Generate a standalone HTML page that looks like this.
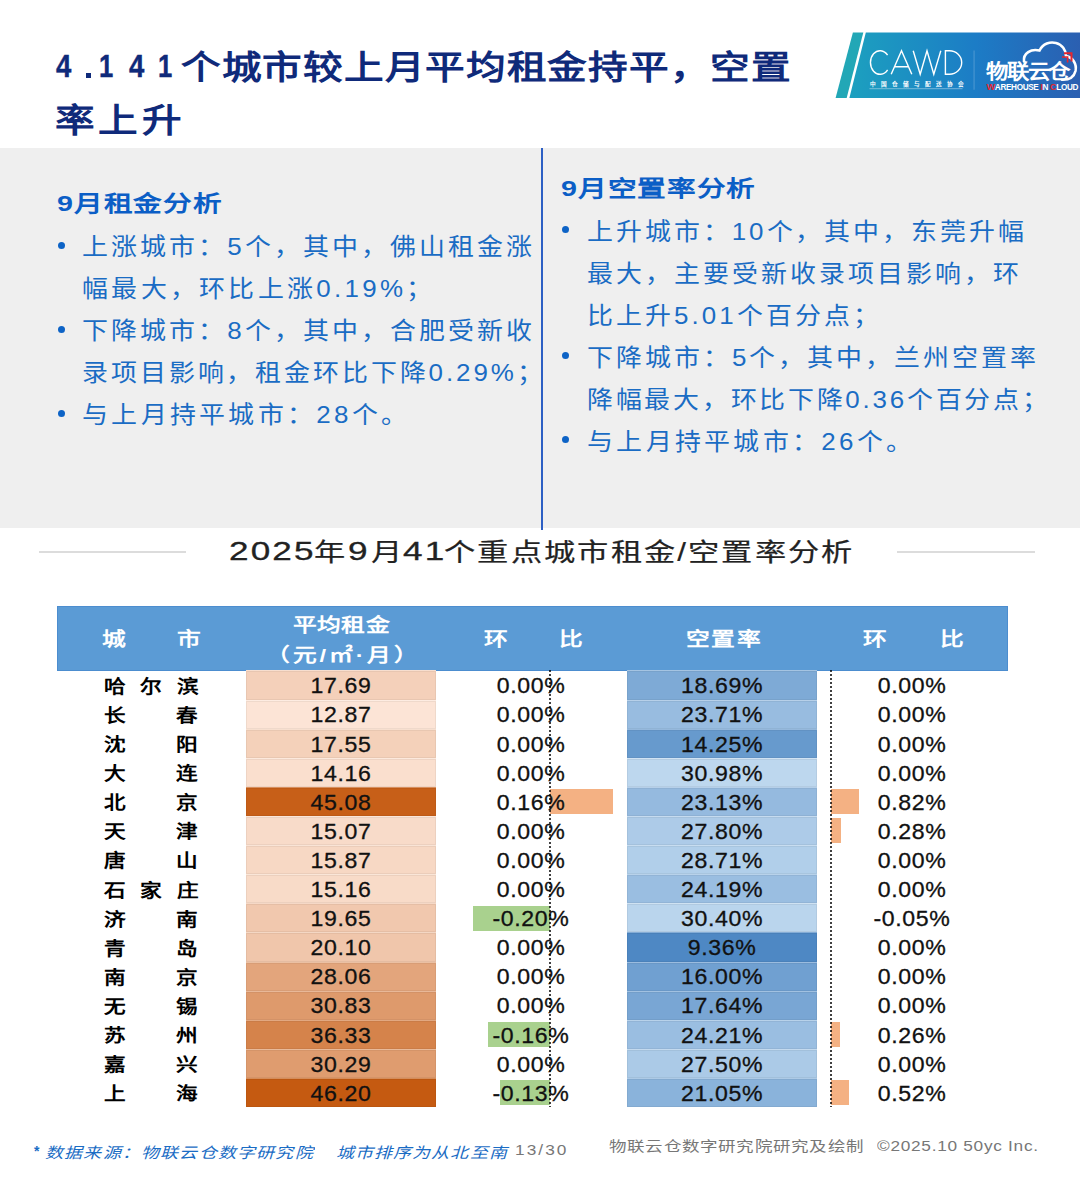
<!DOCTYPE html>
<html lang="zh-CN"><head><meta charset="utf-8">
<style>
*{margin:0;padding:0;box-sizing:border-box}
html,body{width:1080px;height:1200px;overflow:hidden;background:#fff}
body{position:relative;font-family:"Liberation Sans",sans-serif}
.a{position:absolute;white-space:nowrap}
.s{transform-origin:0 0}
.title{left:55px;color:#0f2a7a;font-size:33px;font-weight:700;line-height:40px;transform:scaleX(1.2)}
.tdig{color:#0f2a7a;font-size:32px;font-weight:700;line-height:40px;transform:scaleX(0.86);-webkit-text-stroke:0.4px #0f2a7a}
.h{color:#0b5ec6;font-size:22px;font-weight:700;letter-spacing:0.8px;line-height:30px;transform:scaleX(1.3)}
.b{color:#1a6cc4;font-size:24px;letter-spacing:3.1px;line-height:30px;transform:scaleX(1.08)}
.dot{position:absolute;width:7px;height:7px;border-radius:50%;background:#0d63c6}
.ctitle{color:#222;font-size:25px;font-weight:500;letter-spacing:2.1px;line-height:30px;transform:scaleX(1.25);-webkit-text-stroke:0.2px #222}
.tht{color:#fff;font-size:19px;font-weight:700;line-height:24px;transform:scaleX(1.25)}
.num{font-size:22px;color:#111;-webkit-text-stroke:0.3px #111;line-height:24px;letter-spacing:0.6px;text-align:center;transform:scaleX(1.05)}
.city{transform-origin:0 0;font-size:18px;font-weight:700;color:#000;line-height:24px;transform:scaleX(1.2)}
.foot{color:#1a6cc4;font-size:15px;font-style:italic;letter-spacing:1px;line-height:20px;transform:scaleX(1.2)}
.foot2{color:#777;font-size:15px;line-height:20px;transform:scaleX(1.05)}
</style></head><body>

<!-- title -->
<div class="a s title" style="left:181px;top:48px;letter-spacing:0.93px">个城市较上月平均租金持平，空置</div>
<div class="a s tdig" style="left:55.7px;top:46px">4</div>
<div class="a" style="left:85.5px;top:72.5px;width:5px;height:5px;background:#0f2a7a"></div>
<div class="a s tdig" style="left:99px;top:46px;transform:scaleX(0.8)">1</div>
<div class="a s tdig" style="left:129px;top:46px">4</div>
<div class="a s tdig" style="left:158px;top:46px;transform:scaleX(0.8)">1</div>
<div class="a s title" style="top:101px;letter-spacing:3.1px">率上升</div>

<!-- logo -->
<svg class="a" style="left:830px;top:25px" width="250" height="80" viewBox="830 25 250 80">
<defs><linearGradient id="lg" gradientUnits="userSpaceOnUse" x1="850" y1="0" x2="1080" y2="0"><stop offset="0" stop-color="#1ca0bf"/><stop offset="0.55" stop-color="#1c7cc6"/><stop offset="1" stop-color="#2b5fb1"/></linearGradient></defs>
<polygon points="852.9,32.6 863.3,32.6 846.7,97.9 835.6,97.9" fill="#22a7b6"/>
<polygon points="865.8,32.6 1080,32.6 1080,97.9 849.4,97.9" fill="url(#lg)"/>
<g fill="none" stroke="#fff" stroke-width="1.4">
<path d="M887.6,55.2 A9.6,11.8 0 1 0 887.6,69.8"/>
<path d="M891.2,74.3 L901.5,50.8 L911.8,74.3 M894.6,66.8 H908.4"/>
<path d="M913.2,50.8 L920.2,74.3 L927,50.8 L933.8,74.3 L940.8,50.8"/>
<path d="M945.4,50.8 V74.3 H949.5 A12.2,11.75 0 0 0 949.5,50.8 Z"/>
</g>
<text x="869.5" y="85.6" font-size="5.6" fill="#fff" font-weight="700" letter-spacing="5.1" font-family="Liberation Sans, sans-serif">中国仓储与配送协会</text>
<rect x="869.5" y="88.2" width="93" height="1" fill="#fff" opacity="0.4"/>
<rect x="973.6" y="50.5" width="0.9" height="39.2" fill="#fff" opacity="0.25"/>
<path d="M1024,61.5 C1023,53 1031,48.5 1039.5,50.5 C1043,43.5 1050,41.5 1056,43 C1062,44.5 1066,50 1066,56 C1073,57.5 1077,64 1075.5,71 C1074,77 1069,80 1062,79.8" fill="none" stroke="#fff" stroke-width="2.6" stroke-linecap="round"/>
<path d="M1064,53.2 H1071.5 V61.5" fill="none" stroke="#e8262d" stroke-width="2"/>
<path d="M1062,57 H1067.6 V62.6" fill="none" stroke="#e8262d" stroke-width="1.6"/>
<text x="986" y="79.5" font-size="20" font-weight="900" fill="#fff" letter-spacing="-1.2" font-family="Liberation Sans, sans-serif" transform="translate(986 0) scale(1.12 1) translate(-986 0)">物联云仓</text>
<text x="986.5" y="89.8" font-size="8.2" font-weight="700" fill="#fff" letter-spacing="-0.35" font-family="Liberation Sans, sans-serif"><tspan fill="#e8262d" font-size="9.2">W</tspan>AREHOUSE <tspan fill="#e8262d" font-size="9.2">I</tspan>N <tspan fill="#e8262d" font-size="9.2">C</tspan>LOUD</text>
</svg>

<!-- panel -->
<div class="a" style="left:0;top:148px;width:1080px;height:380px;background:#efefef"></div>
<div class="a" style="left:541px;top:148px;width:2px;height:382px;background:#2d5fc4"></div>

<!-- left column -->
<div class="a s h" style="left:57px;top:189px">9月租金分析</div>
<div class="dot" style="left:57.5px;top:242px"></div>
<div class="a s b" style="left:82px;top:232px;letter-spacing:2.91px">上涨城市：5个，其中，佛山租金涨</div>
<div class="a s b" style="left:82px;top:274px">幅最大，环比上涨0.19%；</div>
<div class="dot" style="left:57.5px;top:326px"></div>
<div class="a s b" style="left:82px;top:316px;letter-spacing:2.91px">下降城市：8个，其中，合肥受新收</div>
<div class="a s b" style="left:82px;top:358px;letter-spacing:2.74px">录项目影响，租金环比下降0.29%；</div>
<div class="dot" style="left:57.5px;top:410px"></div>
<div class="a s b" style="left:82px;top:400px">与上月持平城市：28个。</div>

<!-- right column -->
<div class="a s h" style="left:561px;top:174px">9月空置率分析</div>
<div class="dot" style="left:561.5px;top:226px"></div>
<div class="a s b" style="left:587px;top:216.5px;letter-spacing:2.79px">上升城市：10个，其中，东莞升幅</div>
<div class="a s b" style="left:587px;top:258.5px;letter-spacing:2.88px">最大，主要受新收录项目影响，环</div>
<div class="a s b" style="left:587px;top:300.5px;letter-spacing:2.85px">比上升5.01个百分点；</div>
<div class="dot" style="left:561.5px;top:352px"></div>
<div class="a s b" style="left:587px;top:342.5px;letter-spacing:2.85px">下降城市：5个，其中，兰州空置率</div>
<div class="a s b" style="left:587px;top:384.5px;letter-spacing:2.58px">降幅最大，环比下降0.36个百分点；</div>
<div class="dot" style="left:561.5px;top:436px"></div>
<div class="a s b" style="left:587px;top:426.5px">与上月持平城市：26个。</div>

<!-- chart title -->
<div class="a" style="left:39px;top:551px;width:147px;height:2px;background:#dcdcdc"></div>
<div class="a" style="left:897px;top:551px;width:138px;height:2px;background:#dcdcdc"></div>
<div class="a s ctitle" style="left:229px;top:536px;font-size:26px;letter-spacing:1.6px;transform:scaleX(1.35);-webkit-text-stroke:0.3px #222">2025</div>
<div class="a s ctitle" style="left:314px;top:537px">年</div>
<div class="a s ctitle" style="left:348px;top:536px;font-size:26px;transform:scaleX(1.35);-webkit-text-stroke:0.3px #222">9</div>
<div class="a s ctitle" style="left:370.5px;top:537px">月</div>
<div class="a s ctitle" style="left:403px;top:536px;font-size:26px;letter-spacing:1.6px;transform:scaleX(1.35);-webkit-text-stroke:0.3px #222">41</div>
<div class="a s ctitle" style="left:444.2px;top:537px;letter-spacing:1.66px">个重点城市租金/空置率分析</div>

<!-- table header -->
<div class="a" style="left:57px;top:606px;width:951px;height:65px;background:#5b9bd5;border:1px solid #4c8dcf"></div>
<div class="a s tht" style="left:102px;top:627.5px">城</div>
<div class="a s tht" style="left:177px;top:627.5px">市</div>
<div class="a s tht" style="left:293px;top:614px;letter-spacing:0.4px">平均租金</div>
<div class="a s tht" style="left:266px;top:643.5px;letter-spacing:2.4px">（元/㎡·月）</div>
<div class="a s tht" style="left:484px;top:627.5px">环</div>
<div class="a s tht" style="left:559px;top:627.5px">比</div>
<div class="a s tht" style="left:686px;top:627.5px;letter-spacing:1.4px">空置率</div>
<div class="a s tht" style="left:863px;top:627.5px">环</div>
<div class="a s tht" style="left:940px;top:627.5px">比</div>

<!-- table body -->
<div class="a" style="left:246px;top:670px;width:190px;height:30px;background:#f7decf"></div><div class="a" style="left:246px;top:671px;width:190px;height:29px;background:#f4d0ba;box-shadow:inset 0 0 0 1px #e8c6b1"></div>
<div class="a" style="left:627px;top:670px;width:190px;height:30px;background:#a5c4e2"></div><div class="a" style="left:627px;top:671px;width:190px;height:29px;background:#7eaad6;box-shadow:inset 0 0 0 1px #78a2cb"></div>
<div class="a" style="left:246px;top:700px;width:190px;height:29px;background:#fdece2"></div><div class="a" style="left:246px;top:701px;width:190px;height:28px;background:#fce4d6;box-shadow:inset 0 0 0 1px #efd9cb"></div>
<div class="a" style="left:627px;top:700px;width:190px;height:29px;background:#b7d0e9"></div><div class="a" style="left:627px;top:701px;width:190px;height:28px;background:#98bce0;box-shadow:inset 0 0 0 1px #90b3d5"></div>
<div class="a" style="left:246px;top:729px;width:190px;height:29px;background:#f7dfcf"></div><div class="a" style="left:246px;top:730px;width:190px;height:28px;background:#f4d1ba;box-shadow:inset 0 0 0 1px #e8c7b1"></div>
<div class="a" style="left:627px;top:729px;width:190px;height:29px;background:#95b8dc"></div><div class="a" style="left:627px;top:730px;width:190px;height:28px;background:#679acd;box-shadow:inset 0 0 0 1px #6292c3"></div>
<div class="a" style="left:246px;top:758px;width:190px;height:29px;background:#fce9dd"></div><div class="a" style="left:246px;top:759px;width:190px;height:28px;background:#fadfce;box-shadow:inset 0 0 0 1px #eed4c4"></div>
<div class="a" style="left:627px;top:758px;width:190px;height:29px;background:#d1e3f3"></div><div class="a" style="left:627px;top:759px;width:190px;height:28px;background:#bdd7ee;box-shadow:inset 0 0 0 1px #b4cce2"></div>
<div class="a" style="left:246px;top:787px;width:190px;height:29px;background:#d88f5d"></div><div class="a" style="left:246px;top:788px;width:190px;height:28px;background:#c75f18;box-shadow:inset 0 0 0 1px #bd5a17"></div>
<div class="a" style="left:627px;top:787px;width:190px;height:29px;background:#b5cfe9"></div><div class="a" style="left:627px;top:788px;width:190px;height:28px;background:#95badf;box-shadow:inset 0 0 0 1px #8eb1d4"></div>
<div class="a" style="left:550px;top:789px;width:63px;height:25px;background:#f4b183"></div>
<div class="a" style="left:831px;top:789px;width:28px;height:25px;background:#f4b183"></div>
<div class="a" style="left:246px;top:816px;width:190px;height:29px;background:#fae6d9"></div><div class="a" style="left:246px;top:817px;width:190px;height:28px;background:#f8dbc9;box-shadow:inset 0 0 0 1px #ecd0bf"></div>
<div class="a" style="left:627px;top:816px;width:190px;height:29px;background:#c6dbef"></div><div class="a" style="left:627px;top:817px;width:190px;height:28px;background:#adcbe8;box-shadow:inset 0 0 0 1px #a4c1dc"></div>
<div class="a" style="left:831px;top:818px;width:10px;height:25px;background:#f4b183"></div>
<div class="a" style="left:246px;top:845px;width:190px;height:29px;background:#f9e4d6"></div><div class="a" style="left:246px;top:846px;width:190px;height:28px;background:#f7d8c4;box-shadow:inset 0 0 0 1px #ebcdba"></div>
<div class="a" style="left:627px;top:845px;width:190px;height:29px;background:#c8ddf0"></div><div class="a" style="left:627px;top:846px;width:190px;height:28px;background:#b1cfea;box-shadow:inset 0 0 0 1px #a8c5de"></div>
<div class="a" style="left:246px;top:874px;width:190px;height:29px;background:#fae6d8"></div><div class="a" style="left:246px;top:875px;width:190px;height:28px;background:#f8dbc8;box-shadow:inset 0 0 0 1px #ecd0be"></div>
<div class="a" style="left:627px;top:874px;width:190px;height:29px;background:#b8d2ea"></div><div class="a" style="left:627px;top:875px;width:190px;height:28px;background:#9abee1;box-shadow:inset 0 0 0 1px #92b4d6"></div>
<div class="a" style="left:246px;top:903px;width:190px;height:29px;background:#f5d8c6"></div><div class="a" style="left:246px;top:904px;width:190px;height:28px;background:#f1c8ae;box-shadow:inset 0 0 0 1px #e5bea5"></div>
<div class="a" style="left:627px;top:903px;width:190px;height:29px;background:#cfe2f2"></div><div class="a" style="left:627px;top:904px;width:190px;height:28px;background:#bad5ed;box-shadow:inset 0 0 0 1px #b1cae1"></div>
<div class="a" style="left:473px;top:906px;width:77px;height:25px;background:#a9d18e"></div>
<div class="a" style="left:246px;top:932px;width:190px;height:30px;background:#f4d7c4"></div><div class="a" style="left:246px;top:933px;width:190px;height:29px;background:#f0c6ab;box-shadow:inset 0 0 0 1px #e4bca2"></div>
<div class="a" style="left:627px;top:932px;width:190px;height:30px;background:#83acd6"></div><div class="a" style="left:627px;top:933px;width:190px;height:29px;background:#4e88c4;box-shadow:inset 0 0 0 1px #4a81ba"></div>
<div class="a" style="left:246px;top:962px;width:190px;height:29px;background:#ebc0a3"></div><div class="a" style="left:246px;top:963px;width:190px;height:28px;background:#e3a57c;box-shadow:inset 0 0 0 1px #d89d76"></div>
<div class="a" style="left:627px;top:962px;width:190px;height:29px;background:#9bbcdf"></div><div class="a" style="left:627px;top:963px;width:190px;height:28px;background:#70a0d1;box-shadow:inset 0 0 0 1px #6a98c7"></div>
<div class="a" style="left:246px;top:991px;width:190px;height:29px;background:#e8b898"></div><div class="a" style="left:246px;top:992px;width:190px;height:28px;background:#de9a6c;box-shadow:inset 0 0 0 1px #d39267"></div>
<div class="a" style="left:627px;top:991px;width:190px;height:29px;background:#a1c1e1"></div><div class="a" style="left:627px;top:992px;width:190px;height:28px;background:#79a6d4;box-shadow:inset 0 0 0 1px #739ec9"></div>
<div class="a" style="left:246px;top:1020px;width:190px;height:29px;background:#e2a881"></div><div class="a" style="left:246px;top:1021px;width:190px;height:28px;background:#d5834b;box-shadow:inset 0 0 0 1px #ca7c47"></div>
<div class="a" style="left:627px;top:1020px;width:190px;height:29px;background:#b8d2ea"></div><div class="a" style="left:627px;top:1021px;width:190px;height:28px;background:#9abee1;box-shadow:inset 0 0 0 1px #92b4d6"></div>
<div class="a" style="left:488px;top:1022px;width:62px;height:25px;background:#a9d18e"></div>
<div class="a" style="left:831px;top:1022px;width:9px;height:25px;background:#f4b183"></div>
<div class="a" style="left:246px;top:1049px;width:190px;height:29px;background:#e9ba9a"></div><div class="a" style="left:246px;top:1050px;width:190px;height:28px;background:#df9c6f;box-shadow:inset 0 0 0 1px #d49469"></div>
<div class="a" style="left:627px;top:1049px;width:190px;height:29px;background:#c4daee"></div><div class="a" style="left:627px;top:1050px;width:190px;height:28px;background:#abcae7;box-shadow:inset 0 0 0 1px #a2c0db"></div>
<div class="a" style="left:246px;top:1078px;width:190px;height:29px;background:#d68c58"></div><div class="a" style="left:246px;top:1079px;width:190px;height:28px;background:#c55a11;box-shadow:inset 0 0 0 1px #bb5610"></div>
<div class="a" style="left:627px;top:1078px;width:190px;height:29px;background:#adcae6"></div><div class="a" style="left:627px;top:1079px;width:190px;height:28px;background:#8ab3db;box-shadow:inset 0 0 0 1px #83aad0"></div>
<div class="a" style="left:500px;top:1080px;width:50px;height:25px;background:#a9d18e"></div>
<div class="a" style="left:831px;top:1080px;width:18px;height:25px;background:#f4b183"></div>
<div class="a city" style="left:104px;top:674.8px;letter-spacing:12.25px">哈尔滨</div>
<div class="a num" style="left:246px;top:674.3px;width:190px">17.69</div>
<div class="a num" style="left:436px;top:674.3px;width:190px">0.00%</div>
<div class="a num" style="left:627px;top:674.3px;width:190px">18.69%</div>
<div class="a num" style="left:817px;top:674.3px;width:190px">0.00%</div>
<div class="a city" style="left:104px;top:703.9px">长</div><div class="a city" style="left:176px;top:703.9px">春</div>
<div class="a num" style="left:246px;top:703.4px;width:190px">12.87</div>
<div class="a num" style="left:436px;top:703.4px;width:190px">0.00%</div>
<div class="a num" style="left:627px;top:703.4px;width:190px">23.71%</div>
<div class="a num" style="left:817px;top:703.4px;width:190px">0.00%</div>
<div class="a city" style="left:104px;top:733.0px">沈</div><div class="a city" style="left:176px;top:733.0px">阳</div>
<div class="a num" style="left:246px;top:732.5px;width:190px">17.55</div>
<div class="a num" style="left:436px;top:732.5px;width:190px">0.00%</div>
<div class="a num" style="left:627px;top:732.5px;width:190px">14.25%</div>
<div class="a num" style="left:817px;top:732.5px;width:190px">0.00%</div>
<div class="a city" style="left:104px;top:762.1px">大</div><div class="a city" style="left:176px;top:762.1px">连</div>
<div class="a num" style="left:246px;top:761.6px;width:190px">14.16</div>
<div class="a num" style="left:436px;top:761.6px;width:190px">0.00%</div>
<div class="a num" style="left:627px;top:761.6px;width:190px">30.98%</div>
<div class="a num" style="left:817px;top:761.6px;width:190px">0.00%</div>
<div class="a city" style="left:104px;top:791.2px">北</div><div class="a city" style="left:176px;top:791.2px">京</div>
<div class="a num" style="left:246px;top:790.7px;width:190px">45.08</div>
<div class="a num" style="left:436px;top:790.7px;width:190px">0.16%</div>
<div class="a num" style="left:627px;top:790.7px;width:190px">23.13%</div>
<div class="a num" style="left:817px;top:790.7px;width:190px">0.82%</div>
<div class="a city" style="left:104px;top:820.3px">天</div><div class="a city" style="left:176px;top:820.3px">津</div>
<div class="a num" style="left:246px;top:819.8px;width:190px">15.07</div>
<div class="a num" style="left:436px;top:819.8px;width:190px">0.00%</div>
<div class="a num" style="left:627px;top:819.8px;width:190px">27.80%</div>
<div class="a num" style="left:817px;top:819.8px;width:190px">0.28%</div>
<div class="a city" style="left:104px;top:849.4px">唐</div><div class="a city" style="left:176px;top:849.4px">山</div>
<div class="a num" style="left:246px;top:848.9px;width:190px">15.87</div>
<div class="a num" style="left:436px;top:848.9px;width:190px">0.00%</div>
<div class="a num" style="left:627px;top:848.9px;width:190px">28.71%</div>
<div class="a num" style="left:817px;top:848.9px;width:190px">0.00%</div>
<div class="a city" style="left:104px;top:878.5px;letter-spacing:12.25px">石家庄</div>
<div class="a num" style="left:246px;top:878.0px;width:190px">15.16</div>
<div class="a num" style="left:436px;top:878.0px;width:190px">0.00%</div>
<div class="a num" style="left:627px;top:878.0px;width:190px">24.19%</div>
<div class="a num" style="left:817px;top:878.0px;width:190px">0.00%</div>
<div class="a city" style="left:104px;top:907.6px">济</div><div class="a city" style="left:176px;top:907.6px">南</div>
<div class="a num" style="left:246px;top:907.1px;width:190px">19.65</div>
<div class="a num" style="left:436px;top:907.1px;width:190px">-0.20%</div>
<div class="a num" style="left:627px;top:907.1px;width:190px">30.40%</div>
<div class="a num" style="left:817px;top:907.1px;width:190px">-0.05%</div>
<div class="a city" style="left:104px;top:936.7px">青</div><div class="a city" style="left:176px;top:936.7px">岛</div>
<div class="a num" style="left:246px;top:936.2px;width:190px">20.10</div>
<div class="a num" style="left:436px;top:936.2px;width:190px">0.00%</div>
<div class="a num" style="left:627px;top:936.2px;width:190px">9.36%</div>
<div class="a num" style="left:817px;top:936.2px;width:190px">0.00%</div>
<div class="a city" style="left:104px;top:965.8px">南</div><div class="a city" style="left:176px;top:965.8px">京</div>
<div class="a num" style="left:246px;top:965.3px;width:190px">28.06</div>
<div class="a num" style="left:436px;top:965.3px;width:190px">0.00%</div>
<div class="a num" style="left:627px;top:965.3px;width:190px">16.00%</div>
<div class="a num" style="left:817px;top:965.3px;width:190px">0.00%</div>
<div class="a city" style="left:104px;top:994.9px">无</div><div class="a city" style="left:176px;top:994.9px">锡</div>
<div class="a num" style="left:246px;top:994.4px;width:190px">30.83</div>
<div class="a num" style="left:436px;top:994.4px;width:190px">0.00%</div>
<div class="a num" style="left:627px;top:994.4px;width:190px">17.64%</div>
<div class="a num" style="left:817px;top:994.4px;width:190px">0.00%</div>
<div class="a city" style="left:104px;top:1024.0px">苏</div><div class="a city" style="left:176px;top:1024.0px">州</div>
<div class="a num" style="left:246px;top:1023.5px;width:190px">36.33</div>
<div class="a num" style="left:436px;top:1023.5px;width:190px">-0.16%</div>
<div class="a num" style="left:627px;top:1023.5px;width:190px">24.21%</div>
<div class="a num" style="left:817px;top:1023.5px;width:190px">0.26%</div>
<div class="a city" style="left:104px;top:1053.1px">嘉</div><div class="a city" style="left:176px;top:1053.1px">兴</div>
<div class="a num" style="left:246px;top:1052.6px;width:190px">30.29</div>
<div class="a num" style="left:436px;top:1052.6px;width:190px">0.00%</div>
<div class="a num" style="left:627px;top:1052.6px;width:190px">27.50%</div>
<div class="a num" style="left:817px;top:1052.6px;width:190px">0.00%</div>
<div class="a city" style="left:104px;top:1082.2px">上</div><div class="a city" style="left:176px;top:1082.2px">海</div>
<div class="a num" style="left:246px;top:1081.7px;width:190px">46.20</div>
<div class="a num" style="left:436px;top:1081.7px;width:190px">-0.13%</div>
<div class="a num" style="left:627px;top:1081.7px;width:190px">21.05%</div>
<div class="a num" style="left:817px;top:1081.7px;width:190px">0.52%</div>
<div class="a" style="left:549px;top:670px;width:2px;height:437px;background:repeating-linear-gradient(rgba(0,0,0,.75) 0 2px,transparent 2px 4px)"></div>
<div class="a" style="left:830px;top:670px;width:2px;height:437px;background:repeating-linear-gradient(rgba(0,0,0,.75) 0 2px,transparent 2px 4px)"></div>

<!-- footer -->
<div class="a s foot" style="left:34px;top:1141px;font-size:14px;font-weight:700;font-style:normal;transform:none">*</div>
<div class="a s foot" style="left:45px;top:1143px">数据来源：物联云仓数字研究院</div>
<div class="a s foot" style="left:336px;top:1143px;letter-spacing:0.9px">城市排序为从北至南</div>
<div class="a s foot2" style="left:515px;top:1140px;letter-spacing:1.8px;transform:scaleX(1.15)">13/30</div>
<div class="a s foot2" style="left:609px;top:1136px;font-size:14px;letter-spacing:0.57px;transform:scaleX(1.25)">物联云仓数字研究院研究及绘制</div>
<div class="a s foot2" style="left:877px;top:1136px;letter-spacing:0.62px;transform:scaleX(1.15)">©2025.10 50yc Inc.</div>

</body></html>
